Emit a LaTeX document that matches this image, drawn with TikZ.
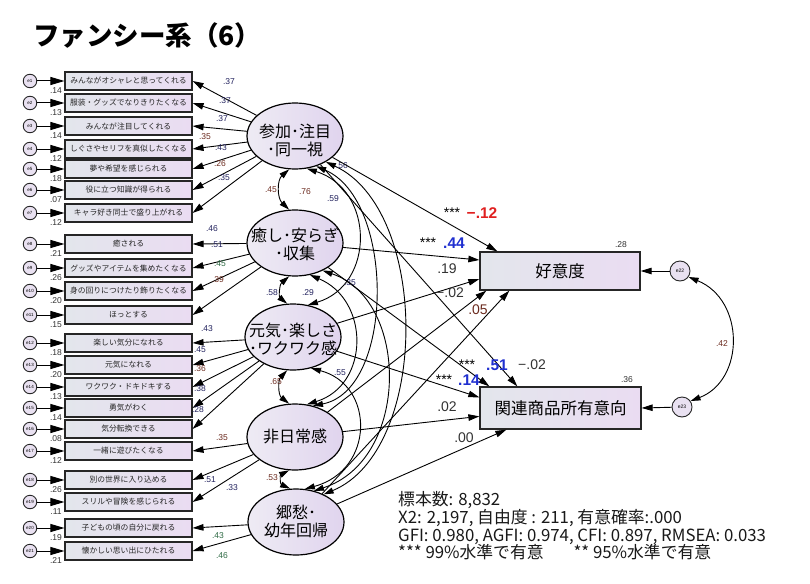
\documentclass[tikz,border=0pt]{standalone}
\usepackage{fontspec}
\setmainfont{Liberation Sans}
\newfontfamily\jp{Noto Sans CJK JP}
\usetikzlibrary{shapes.geometric,arrows.meta,calc}
\definecolor{boxL}{HTML}{E3E6EC}
\definecolor{boxR}{HTML}{EADCF2}
\definecolor{facL}{HTML}{EEEBF4}
\definecolor{facR}{HTML}{E0D4EE}
\definecolor{errF}{HTML}{E9E1F1}
\definecolor{navy}{HTML}{22225E}
\definecolor{brn}{HTML}{6B2A1E}
\definecolor{grn}{HTML}{2E6A44}
\definecolor{lblue}{HTML}{1F2FD0}
\definecolor{lred}{HTML}{E02020}
\definecolor{dgray}{HTML}{333333}
\begin{document}
\begin{tikzpicture}[x=1pt,y=-1pt,
  ind/.style={draw=black!85, line width=1.1pt, minimum width=127pt, minimum height=18pt, inner sep=0pt, left color=boxL, right color=boxR, font=\jp\fontsize{7.8}{9}\selectfont, text=black!85},
  errc/.style={circle, draw=black!85, line width=0.9pt, minimum size=13.5pt, inner sep=0pt, fill=errF, font=\fontsize{4.5}{5}\selectfont},
  fac/.style={ellipse, draw=black, line width=1.2pt, minimum width=96pt, minimum height=66pt, inner sep=0pt, left color=facL, right color=facR},
  factxt/.style={align=center, inner sep=0pt, font=\jp\fontsize{16}{18}\selectfont},
  dep/.style={draw=black!85, line width=1.3pt, inner sep=0pt, left color=boxL, right color=boxR, font=\jp\fontsize{16.5}{18}\selectfont},
  pth/.style={-{Triangle[length=11pt,width=6.5pt]}, line width=0.9pt},
  earr/.style={-{Triangle[length=14pt,width=8pt]}, line width=1pt},
  cov/.style={{Triangle[length=10pt,width=6pt]}-{Triangle[length=10pt,width=6pt]}, line width=0.9pt},
  lab/.style={font=\fontsize{8.5}{9}\selectfont, inner sep=0pt},
  big/.style={font=\fontsize{14}{14}\selectfont, text=dgray, inner sep=0pt},
  star/.style={font=\fontsize{14}{14}\selectfont, inner sep=0pt},
  sig/.style={font=\bfseries\fontsize{15.5}{15.5}\selectfont, inner sep=0pt},
  info/.style={anchor=base west, inner sep=0pt, font=\jp\fontsize{16.8}{17}\selectfont, text=black!90}]
\fill[white] (0,0) rectangle (810,583);
\useasboundingbox (0,0) rectangle (810,583);

% title
\node[anchor=base west, inner sep=0pt, font=\jp\bfseries\fontsize{26.5}{27}\selectfont] (title) at (33,46) {ファンシー系（6）};

% factors
\node[fac] (F1) at (295,136) {};
\node[fac] (F2) at (295,243) {};
\node[fac] (F3) at (293,337) {};
\node[fac] (F4) at (295,437) {};
\node[fac] (F5) at (296,522) {};
\node[factxt] (t1) at (295,140) {参加･注目\\･同一視};
\node[factxt] (t2) at (295,244) {癒し･安らぎ\\･収集};
\node[factxt] (t3) at (293,339) {元気･楽しさ\\･ワクワク感};
\node[factxt] (t4) at (295,436) {非日常感};
\node[factxt] (t5) at (296,521) {郷愁･\\幼年回帰};

% indicators
\foreach \i/\yy/\t/\v in {
 1/81/{みんながオシャレと思ってくれる}/.14,
 2/103/{服装・グッズでなりきりたくなる}/.13,
 3/126/{みんなが注目してくれる}/.14,
 4/149/{しぐさやセリフを真似したくなる}/.12,
 5/169/{夢や希望を感じられる}/.18,
 6/190/{役に立つ知識が得られる}/.07,
 7/213/{キャラ好き同士で盛り上がれる}/.12,
 8/244/{癒される}/.21,
 9/268/{グッズやアイテムを集めたくなる}/.26,
 10/291/{身の回りにつけたり飾りたくなる}/.20,
 11/315/{ほっとする}/.15,
 12/343/{楽しい気分になれる}/.18,
 13/365/{元気になれる}/.20,
 14/387/{ワクワク・ドキドキする}/.13,
 15/408/{勇気がわく}/.14,
 16/429/{気分転換できる}/.08,
 17/451/{一緒に遊びたくなる}/.12,
 18/480/{別の世界に入り込める}/.26,
 19/502/{スリルや冒険を感じられる}/.11,
 20/528/{子どもの頃の自分に戻れる}/.19,
 21/551/{懐かしい思い出にひたれる}/.21}{
  \node[ind] (b\i) at (128.5,\yy) {\t};
  \node[errc] (e\i) at (30,\yy) {e\i};
  \draw[earr] (e\i) -- (b\i);
  \node[lab, text=dgray] (v\i) at (56,\yy+10) {\v};
}

% loadings
\foreach \i in {1,...,7} \draw[pth] (F1) -- (b\i.east);
\foreach \i in {8,...,11} \draw[pth] (F2) -- (b\i.east);
\foreach \i in {12,...,16} \draw[pth] (F3) -- (b\i.east);
\foreach \i in {17,18,19} \draw[pth] (F4) -- (b\i.east);
\foreach \i in {20,21} \draw[pth] (F5) -- (b\i.east);

\node[lab,text=navy] (l1) at (229,82) {.37};
\node[lab,text=navy] (l2) at (225,101) {.37};
\node[lab,text=navy] (l3) at (222,119) {.37};
\node[lab,text=brn] (l4) at (205,137) {.35};
\node[lab,text=navy] (l5) at (221,148) {.43};
\node[lab,text=brn] (l6) at (220,164) {.26};
\node[lab,text=navy] (l7) at (224,178) {.35};
\node[lab,text=navy] (l8) at (212,229) {.46};
\node[lab,text=navy] (l9) at (217,245) {.51};
\node[lab,text=grn] (l10) at (220,264) {.45};
\node[lab,text=brn] (l11) at (218,280) {.39};
\node[lab,text=navy] (l12) at (207,329) {.43};
\node[lab,text=navy] (l13) at (200,350) {.45};
\node[lab,text=brn] (l14) at (200,369) {.36};
\node[lab,text=navy] (l15) at (200,389) {.38};
\node[lab,text=navy] (l16) at (198,410) {.28};
\node[lab,text=brn] (l17) at (222,438) {.35};
\node[lab,text=navy] (l18) at (210,480) {.51};
\node[lab,text=navy] (l19) at (232,488) {.33};
\node[lab,text=grn] (l20) at (218,536) {.43};
\node[lab,text=grn] (l21) at (222,556) {.46};

% dependent variables
\node[dep, minimum width=160pt, minimum height=38pt] (dep1) at (560,271) {好意度};
\node[dep, minimum width=161pt, minimum height=42pt] (dep2) at (560.5,408) {関連商品所有意向};
\node[lab,text=dgray] (r1) at (621,245) {.28};
\node[lab,text=dgray] (r2) at (627,380) {.36};
\node[circle, draw=black!85, line width=0.9pt, minimum size=20pt, inner sep=0pt, fill=errF, font=\fontsize{5}{5}\selectfont] (e22) at (680,271) {e22};
\node[circle, draw=black!85, line width=0.9pt, minimum size=20pt, inner sep=0pt, fill=errF, font=\fontsize{5}{5}\selectfont] (e23) at (682,407) {e23};
\draw[pth] (e22) -- (dep1.east);
\draw[pth] (e23) -- (dep2.east);
\draw[cov] (e22.-35) .. controls (745,300) and (745,380) .. (e23.35);
\node[lab,text=brn] (c22) at (722,344) {.42};

% factor covariances
\draw[cov] (F1.-100) .. controls (277,180) and (277,198) .. (F2.100);
\draw[cov] (F2.-100) .. controls (279,285) and (279,297) .. (F3.100);
\draw[cov] (F3.-100) .. controls (278,380) and (278,395) .. (F4.100);
\draw[cov] (F4.-100) .. controls (280,475) and (280,484) .. (F5.100);
\draw[cov] (F1.-70) .. controls (375,190) and (375,285) .. (F3.65);
\draw[cov] (F1.-55) .. controls (395,200) and (395,390) .. (F4.60);
\draw[cov] (F1.-40) .. controls (430,210) and (430,450) .. (F5.45);
\draw[cov] (F2.-65) .. controls (370,300) and (370,385) .. (F4.70);
\draw[cov] (F2.-45) .. controls (410,300) and (410,460) .. (F5.60);
\draw[cov] (F3.-60) .. controls (375,385) and (375,470) .. (F5.75);
\node[lab,text=brn] (k12) at (271,190) {.45};
\node[lab,text=brn] (k13) at (305,192) {.76};
\node[lab,text=navy] (k14) at (333,199) {.59};
\node[lab,text=navy] (k15) at (342,166) {.56};
\node[lab,text=navy] (k23) at (272,293) {.58};
\node[lab,text=navy] (k24) at (308,293) {.29};
\node[lab,text=navy] (k25) at (350,283) {.35};
\node[lab,text=brn] (k34) at (276,382) {.65};
\node[lab,text=navy] (k35) at (340,373) {.55};
\node[lab,text=brn] (k45) at (272,478) {.53};

% structural paths
\draw[pth] (F1) -- ([xshift=18pt]dep1.north west);
\draw[pth] (F2) -- ([yshift=11pt]dep1.west);
\draw[pth] (F3) -- ([yshift=-8pt]dep1.west);
\draw[pth] (F4) -- ([xshift=7pt]dep1.south west);
\draw[pth] (F5) -- ([xshift=30pt]dep1.south west);
\draw[pth] (F2) -- ([xshift=10pt]dep2.north west);
\draw[pth] (F1) -- ([xshift=38pt]dep2.north west);
\draw[pth] (F3) -- ([yshift=-11pt]dep2.north west);
\draw[pth] (F4) -- ([yshift=-30pt]dep2.north west);
\draw[pth] (F5) -- ([xshift=27pt]dep2.south west);

\node[star] (s1a) at (452,213) {***};
\node[sig,text=lred] (s1b) at (482,213) {−.12};
\node[star] (s2a) at (428,243) {***};
\node[sig,text=lblue] (s2b) at (454,243) {.44};
\node[big] (s3) at (447,269) {.19};
\node[big] (s4) at (450,293) {−.02};
\node[big,text=brn] (s5) at (478,310) {.05};
\node[star] (s6a) at (467,365) {***};
\node[sig,text=lblue] (s6b) at (497,365) {.51};
\node[big] (s7) at (532,365) {−.02};
\node[star] (s8a) at (444,380) {***};
\node[sig,text=lblue] (s8b) at (469,380) {.14};
\node[big] (s9) at (447,407) {.02};
\node[big] (s10) at (464,438) {.00};

% fit statistics
\node[info] (n1) at (398,505) {標本数: 8,832};
\node[info] (n2) at (398,523) {X2: 2,197, 自由度 : 211, 有意確率:.000};
\node[info] (n3) at (398,541) {GFI: 0.980, AGFI: 0.974, CFI: 0.897, RMSEA: 0.033};
\node[info] (n4) at (398,558) {*** 99\%水準で有意\hspace{30pt}** 95\%水準で有意};
\end{tikzpicture}
\end{document}
